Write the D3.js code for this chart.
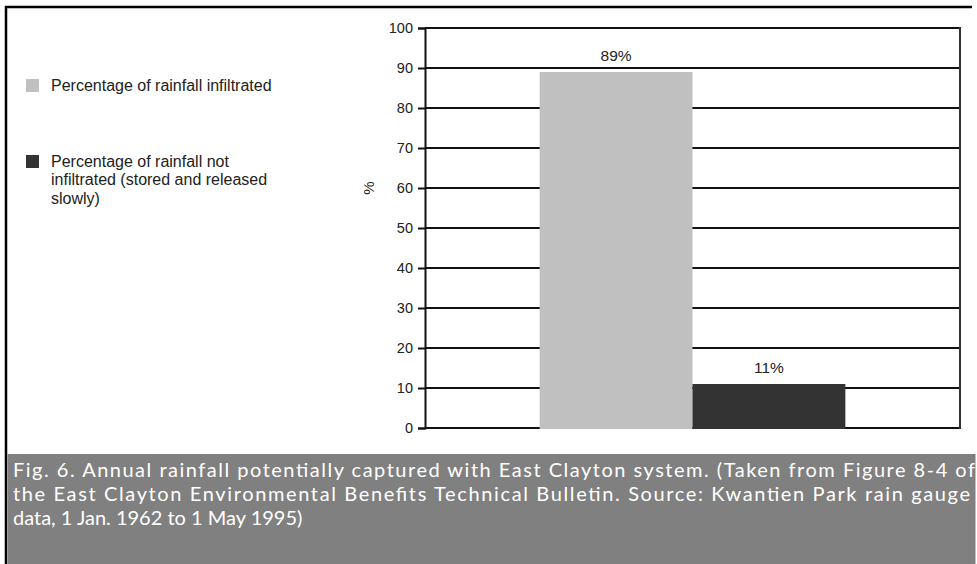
<!DOCTYPE html>
<html>
<head>
<meta charset="utf-8">
<script src="https://cdn.jsdelivr.net/npm/d3@7"></script>
<style>
  body { margin: 0; background: #fff; }
  svg { display: block; }
</style>
</head>
<body>
<div id="chart"></div>
<script>
/* Annual rainfall captured - two bar chart with caption */

const categories = ["infiltrated", "not infiltrated"];
const values = [89, 11];
const valueLabels = ["89%", "11%"];
const barColors = ["#c0c0c0", "#333333"];
const yTicks = [0, 10, 20, 30, 40, 50, 60, 70, 80, 90, 100];
const legendLines = [
    ["Percentage of rainfall infiltrated"],
    ["Percentage of rainfall not", "infiltrated (stored and released", "slowly)"]
];
const captionLines = [
    "Fig. 6. Annual rainfall potentially captured with East Clayton system. (Taken from Figure 8-4 of",
    "the East Clayton Environmental Benefits Technical Bulletin. Source: Kwantien Park rain gauge",
    "data, 1 Jan. 1962 to 1 May 1995)"
];

const width = 977,
      height = 564,
      margin = ({ top: 28, right: 17, bottom: 136, left: 425 });

let svg = d3.select("#chart")
            .append("svg")
            .attr("width", width)
            .attr("height", height)
            .attr("viewBox", [0, 0, width, height]);

svg.append("rect")
    .attr("width", width).attr("height", height)
    .attr("fill", "#fff");

const x = d3.scaleBand()
            .domain(categories)
            .range([margin.left, width - margin.right])
            .paddingInner(0)
            .paddingOuter(0.75);

const y = d3.scaleLinear()
            .domain([0, 100])
            .range([height - margin.bottom, margin.top]);

const plotFont = "Liberation Sans, Arial, sans-serif";

// gridlines
svg.append("g")
    .selectAll("line")
    .data(yTicks)
    .join("line")
    .attr("x1", margin.left)
    .attr("x2", width - margin.right)
    .attr("y1", d => y(d))
    .attr("y2", d => y(d))
    .attr("stroke", "#111")
    .attr("stroke-width", 2);

// right frame
svg.append("line")
    .attr("x1", width - margin.right).attr("x2", width - margin.right)
    .attr("y1", y(100) - 1).attr("y2", y(0) + 1)
    .attr("stroke", "#333")
    .attr("stroke-width", 2);

// bars
svg.append("g")
    .selectAll("rect")
    .data(values)
    .join("rect")
    .attr("x", (d, i) => x(categories[i]))
    .attr("width", x.bandwidth())
    .attr("y", d => y(d))
    .attr("height", d => y(0) - y(d) + 1)
    .attr("fill", (d, i) => barColors[i]);

// value labels
svg.append("g")
    .selectAll("text")
    .data(values)
    .join("text")
    .attr("x", (d, i) => x(categories[i]) + x.bandwidth() / 2)
    .attr("y", d => y(d) - 11)
    .attr("text-anchor", "middle")
    .attr("font-family", plotFont)
    .attr("font-size", 15.5)
    .attr("fill", "#222")
    .text((d, i) => valueLabels[i]);

// y axis
const yAxis = g => g
    .attr("transform", `translate(${margin.left},0)`)
    .call(d3.axisLeft(y).tickValues(yTicks).tickSize(7).tickPadding(5))
    .call(g => g.selectAll(".domain").attr("stroke", "#111").attr("stroke-width", 2))
    .call(g => g.selectAll(".tick line").attr("stroke", "#111").attr("stroke-width", 2))
    .call(g => g.selectAll(".tick text")
        .attr("font-family", plotFont)
        .attr("font-size", 14.5)
        .attr("fill", "#222"));

svg.append("g")
    .call(yAxis);

svg.append("text")
    .attr("transform", `translate(374,${y(60)}) rotate(-90)`)
    .attr("text-anchor", "middle")
    .attr("font-family", plotFont)
    .attr("font-size", 15)
    .attr("fill", "#222")
    .text("%");

// legend
const legendTop = [85, 161];
const legend = svg.append("g");
legendLines.forEach((lines, i) => {
    legend.append("rect")
        .attr("x", 26).attr("y", legendTop[i] - 6)
        .attr("width", 13).attr("height", 13)
        .attr("fill", barColors[i]);
    lines.forEach((t, j) => {
        legend.append("text")
            .attr("x", 51)
            .attr("y", legendTop[i] + 5.5 + j * 18.5)
            .attr("font-family", plotFont)
            .attr("font-size", 16)
            .attr("fill", "#222")
            .text(t);
    });
});

// outer frame
svg.append("line")
    .attr("x1", 5).attr("x2", 972).attr("y1", 7).attr("y2", 7)
    .attr("stroke", "#000").attr("stroke-width", 2.5);
svg.append("line")
    .attr("x1", 6).attr("x2", 6).attr("y1", 6).attr("y2", height)
    .attr("stroke", "#000").attr("stroke-width", 2.5);

// caption
svg.append("rect")
    .attr("x", 7.5).attr("y", 454)
    .attr("width", 968).attr("height", height - 454)
    .attr("fill", "#808080");

const captionWidths = [962, 957, null];
const caption = svg.append("g");
captionLines.forEach((t, i) => {
    const tx = caption.append("text")
        .attr("x", 13)
        .attr("y", 477 + i * 24)
        .attr("font-family", "Lato, Open Sans, sans-serif")
        .attr("font-size", 20)
        .attr("fill", "#fff")
        .text(t);
    if (captionWidths[i]) {
        tx.attr("textLength", captionWidths[i]).attr("lengthAdjust", "spacing");
    }
});
</script>
</body>
</html>
